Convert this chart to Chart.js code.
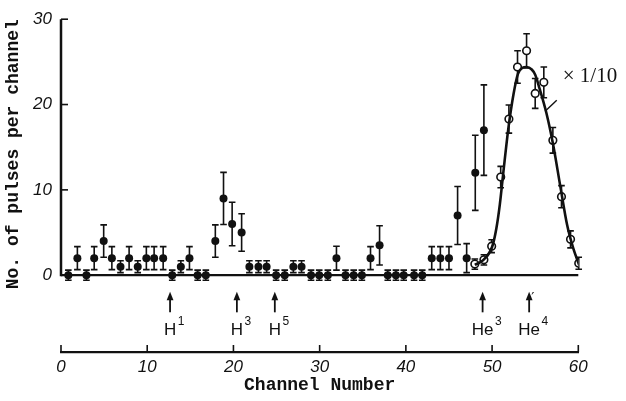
<!DOCTYPE html>
<html>
<head>
<meta charset="utf-8">
<script src="https://cdn.jsdelivr.net/npm/chart.js@4.4.1/dist/chart.umd.min.js"></script>
<style>
  html, body { margin: 0; padding: 0; background: #fff; }
</style>
</head>
<body>
<canvas id="spectrum" width="626" height="401"></canvas>
<script>
// filled dots (counts per channel)
const lowChannels = [0.85, 1.9, 2.95, 3.85, 4.95, 5.9, 6.9, 7.9, 8.9, 9.9,
                     10.8, 11.85, 12.9, 13.9, 14.9, 15.85, 16.8, 17.9, 18.85, 19.85,
                     20.95, 21.85, 22.9, 23.85, 24.95, 25.95, 26.95, 27.9, 29.0, 29.95,
                     30.95, 31.95, 33.0, 33.95, 34.9, 35.9, 36.95, 37.9, 38.85, 39.75,
                     40.95, 41.9, 43.0, 44.0, 45.0, 46.0, 47.05, 48.05, 49.05];
const lowCounts = [0, 2, 0, 2, 4, 2, 1, 2, 1, 2,
                   2, 2, 0, 1, 2, 0, 0, 4, 9, 6,
                   5, 1, 1, 1, 0, 0, 1, 1, 0, 0,
                   0, 2, 0, 0, 0, 2, 3.5, 0, 0, 0,
                   0, 0, 2, 2, 2, 7, 2, 12, 17];
const lowErrors = [0.6, 1.35, 0.6, 1.35, 1.9, 1.35, 0.7, 1.35, 0.7, 1.35,
                   1.35, 1.35, 0.6, 0.7, 1.35, 0.6, 0.6, 1.9, 3.05, 2.55,
                   2.2, 0.7, 0.7, 0.7, 0.6, 0.6, 0.7, 0.7, 0.6, 0.6,
                   0.6, 1.4, 0.6, 0.6, 0.6, 1.35, 2.3, 0.6, 0.6, 0.6,
                   0.6, 0.6, 1.35, 1.35, 1.35, 3.4, 1.7, 4.4, 5.3];

// open dots (He4 peak, drawn x 1/10)
const peakChannels = [48.0, 49.05, 49.95, 51.0, 51.95, 52.95, 54.0, 55.0, 56.0, 57.05, 58.05, 59.1, 60.05];
const peakCounts = [1.3, 1.8, 3.4, 11.5, 18.3, 24.4, 26.3, 21.3, 22.6, 15.8, 9.2, 4.2, 1.4];
const peakErrors = [0.6, 0.6, 0.75, 1.25, 1.65, 1.9, 2.0, 1.75, 1.8, 1.5, 1.3, 1.0, 0.7];

// fitted curve
const fitChannels = [48.0, 49.0, 50.0, 50.5, 50.9, 51.3, 51.9, 52.5, 53.0, 53.5,
                     54.0, 54.6, 55.0, 55.5, 56.3, 57.1, 57.9, 58.7, 59.4, 60.1];
const fitCounts = [1.2, 1.8, 3.3, 5.5, 8.3, 12.0, 17.3, 21.3, 23.6, 24.3,
                   24.4, 24.1, 23.5, 21.9, 19.0, 15.2, 10.5, 5.9, 3.2, 1.2];

const xTicks = [0, 10, 20, 30, 40, 50, 60];
const yTicks = [0, 10, 20, 30];

// expected positions of the particles
const markerNames = ["H", "H", "H", "He", "He"];
const markerMass = ["1", "3", "5", "3", "4"];
const markerChannels = [12.65, 20.4, 24.8, 48.9, 54.3];

const ink = "#111";

const pts = (xs, ys) => xs.map((v, i) => ({ x: v, y: ys[i] }));

const decor = {
    id: "decor",
    beforeDatasetsDraw(chart) {
        const { ctx, scales: { x, y } } = chart;
        ctx.save();
        ctx.strokeStyle = ink;
        ctx.lineCap = "butt";

        // y axis, only over 0..30
        const x0 = x.getPixelForValue(0);
        ctx.lineWidth = 2.5;
        ctx.beginPath();
        ctx.moveTo(x0, y.getPixelForValue(0) + 1);
        ctx.lineTo(x0, y.getPixelForValue(30));
        ctx.stroke();

        // inward ticks
        ctx.lineWidth = 1.6;
        yTicks.slice(1).forEach(v => {
            const py = y.getPixelForValue(v);
            ctx.beginPath();
            ctx.moveTo(x0, py);
            ctx.lineTo(x0 + 7, py);
            ctx.stroke();
        });
        const yb = chart.chartArea.bottom;
        xTicks.forEach(v => {
            const px = x.getPixelForValue(v);
            ctx.beginPath();
            ctx.moveTo(px, yb);
            ctx.lineTo(px, yb - 7);
            ctx.stroke();
        });

        // zero line
        ctx.lineWidth = 2.2;
        ctx.beginPath();
        ctx.moveTo(x0, y.getPixelForValue(0));
        ctx.lineTo(x.getPixelForValue(60), y.getPixelForValue(0));
        ctx.stroke();

        // error bars
        ctx.lineWidth = 1.6;
        chart.data.datasets.forEach(ds => {
            if (!ds.err) return;
            ds.data.forEach((p, j) => {
                const px = x.getPixelForValue(p.x);
                const top = y.getPixelForValue(p.y + ds.err[j]);
                const bot = y.getPixelForValue(p.y - ds.err[j]);
                ctx.beginPath();
                ctx.moveTo(px, top);
                ctx.lineTo(px, bot);
                ctx.moveTo(px - 3.3, top);
                ctx.lineTo(px + 3.3, top);
                ctx.moveTo(px - 3.3, bot);
                ctx.lineTo(px + 3.3, bot);
                ctx.stroke();
            });
        });
        ctx.restore();
    },
    afterDraw(chart) {
        const { ctx, scales: { x, y } } = chart;
        ctx.save();
        ctx.strokeStyle = ink;
        ctx.fillStyle = ink;

        // arrows with particle labels
        const tip = y.getPixelForValue(-1.95);
        const tail = y.getPixelForValue(-4.35);
        const base = y.getPixelForValue(-7.05);
        markerChannels.forEach((c, i) => {
            const px = x.getPixelForValue(c);
            ctx.lineWidth = 1.8;
            ctx.beginPath();
            ctx.moveTo(px, tip + 6);
            ctx.lineTo(px, tail);
            ctx.stroke();
            ctx.beginPath();
            ctx.moveTo(px, tip);
            ctx.lineTo(px - 3.4, tip + 8.5);
            ctx.lineTo(px + 3.4, tip + 8.5);
            ctx.closePath();
            ctx.fill();

            ctx.font = "17px 'Liberation Sans', sans-serif";
            ctx.textAlign = "center";
            ctx.textBaseline = "alphabetic";
            const w = ctx.measureText(markerNames[i]).width;
            ctx.fillText(markerNames[i], px, base);
            ctx.font = "12px 'Liberation Sans', sans-serif";
            ctx.textAlign = "left";
            ctx.fillText(markerMass[i], px + w / 2 + 1.5, base - 10);
            if (markerNames[i] === "He" && markerMass[i] === "4") {
                ctx.font = "14px 'DejaVu Sans', sans-serif";
                ctx.fillText("\u2032", px + 2, tip + 10);
            }
        });

        // scale note for the open dots
        ctx.font = "21px 'Liberation Serif', serif";
        ctx.textAlign = "left";
        ctx.textBaseline = "middle";
        ctx.fillText("\u00d7 1/10", x.getPixelForValue(58.2), y.getPixelForValue(23.3));
        ctx.lineWidth = 1.4;
        ctx.beginPath();
        ctx.moveTo(x.getPixelForValue(57.5), y.getPixelForValue(20.5));
        ctx.lineTo(x.getPixelForValue(56.15), y.getPixelForValue(19.2));
        ctx.stroke();
        ctx.restore();
    }
};

new Chart(document.getElementById("spectrum"), {
    type: "scatter",
    data: {
        datasets: [
            {
                type: "line",
                data: pts(fitChannels, fitCounts),
                borderColor: ink,
                borderWidth: 2.6,
                pointRadius: 0,
                tension: 0.4,
                cubicInterpolationMode: "monotone",
                fill: false,
            },
            {
                data: pts(lowChannels, lowCounts),
                err: lowErrors,
                pointRadius: 4,
                backgroundColor: ink,
                borderWidth: 0,
            },
            {
                data: pts(peakChannels, peakCounts),
                err: peakErrors,
                pointRadius: 3.8,
                backgroundColor: "#fff",
                borderColor: ink,
                borderWidth: 1.6,
            },
        ]
    },
    options: {
        responsive: false,
        animation: false,
        devicePixelRatio: 1,
        layout: { padding: { top: 15, right: 47.7, bottom: 0, left: 0 } },
        scales: {
            x: {
                type: "linear",
                min: 0,
                max: 60,
                afterFit: (s) => { s.height = 49; },
                afterBuildTicks: (s) => { s.ticks = xTicks.map(v => ({ value: v })); },
                grid: { display: false, drawTicks: false },
                border: { display: true, color: ink, width: 2.2 },
                ticks: {
                    padding: 5,
                    maxRotation: 0,
                    font: { family: "'Liberation Sans', sans-serif", size: 17, style: "italic" },
                    color: ink,
                },
                title: {
                    display: true,
                    text: "Channel Number",
                    color: ink,
                    font: { family: "'Liberation Mono', monospace", size: 18, weight: "bold" },
                    padding: { top: 0, bottom: 5 },
                },
            },
            y: {
                min: -9,
                max: 30,
                afterFit: (s) => { s.width = 61; },
                afterBuildTicks: (s) => { s.ticks = yTicks.map(v => ({ value: v })); },
                grid: { display: false, drawTicks: false },
                border: { display: false },
                ticks: {
                    padding: 9,
                    font: { family: "'Liberation Sans', sans-serif", size: 17, style: "italic" },
                    color: ink,
                },
                title: {
                    display: true,
                    text: "No. of pulses per channel",
                    align: "end",
                    color: ink,
                    font: { family: "'Liberation Mono', monospace", size: 18, weight: "bold" },
                    padding: { top: 3, bottom: 0 },
                },
            },
        },
        plugins: {
            legend: { display: false },
            tooltip: { enabled: false },
        }
    },
    plugins: [decor]
});
</script>
</body>
</html>
